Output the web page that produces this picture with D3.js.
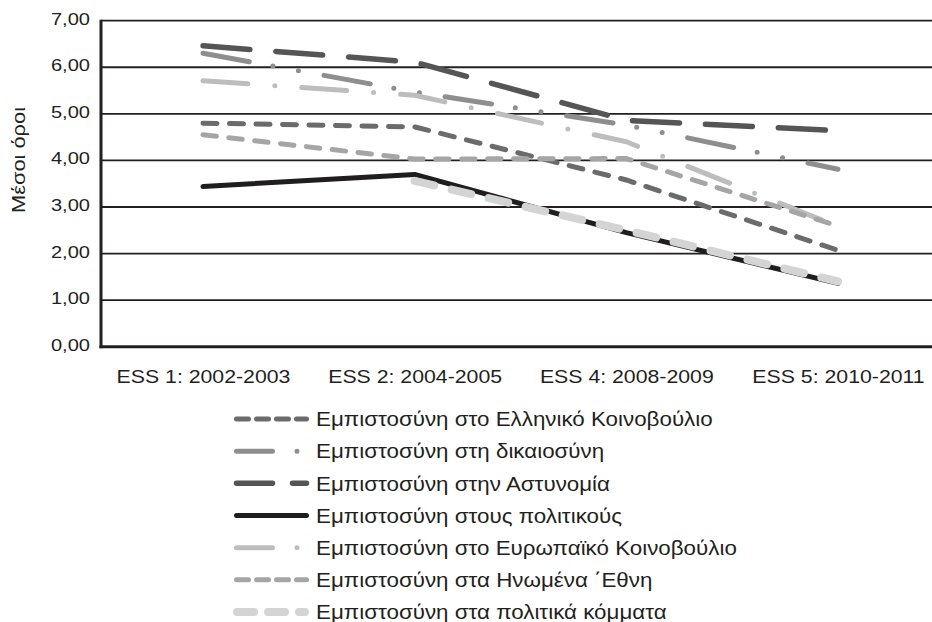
<!DOCTYPE html>
<html><head><meta charset="utf-8">
<script src="https://cdn.jsdelivr.net/npm/d3@7"></script>
<style>
html,body{margin:0;padding:0;background:#fff;}
svg{display:block;font-family:"Liberation Sans",Arial,Helvetica,sans-serif;}
</style></head>
<body><svg id="chart" width="932" height="622"></svg>
<script>
const categories = ["ESS 1: 2002-2003","ESS 2: 2004-2005","ESS 4: 2008-2009","ESS 5: 2010-2011"];
const yTicks = [0,1,2,3,4,5,6,7];
const seriesNames = [
  "Εμπιστοσύνη στο Ελληνικό Κοινοβούλιο",
  "Εμπιστοσύνη στη δικαιοσύνη",
  "Εμπιστοσύνη στην Αστυνομία",
  "Εμπιστοσύνη στους πολιτικούς",
  "Εμπιστοσύνη στο Ευρωπαϊκό Κοινοβούλιο",
  "Εμπιστοσύνη στα Ηνωμένα ΄Εθνη",
  "Εμπιστοσύνη στα πολιτικά κόμματα"
];
const parliament = [4.80, 4.72, 3.58, 2.07];
const justice    = [6.30, 5.47, 4.76, 3.81];
const police     = [6.46, 6.11, 4.86, 4.64];
const politicians= [3.44, 3.70, 2.45, 1.36];
const euParliament=[5.71, 5.40, 4.40, 2.58];
const unitedNations=[4.55, 4.03, 4.04, 2.59];
const parties    = [null, 3.56, 2.50, 1.40];
const seriesValues = [parliament, justice, police, politicians, euParliament, unitedNations, parties];

const styles = [
  {color:"#6b6b6b", w:5,   dash:"14 12.5",          legendDash:"12 8"},
  {color:"#8e8e8e", w:5,   dash:"47 24 0 26 0 26",  legendDash:"36 24.5 0 40"},
  {color:"#555555", w:5.5, dash:"47 26",            legendDash:"36 20"},
  {color:"#1f1d1e", w:5,   dash:null,               legendDash:null},
  {color:"#bdbdbd", w:5,   dash:"45 27 0 27",       legendDash:"36 24.5 0 40"},
  {color:"#a5a5a5", w:5,   dash:"13.5 12.5",        legendDash:"12 8"},
  {color:"#d4d4d4", w:8,   dash:"20 18",            legendDash:"17 14"}
];

const svg = d3.select("#chart");
const pLeft = 101, pRight = 932, pTop = 20.7, pBottom = 346.7;
const ink = "#231f20";

// the reference typeface runs wider than Liberation Sans; stretch text to match
function widen(sel, factor) {
  sel.each(function() {
    const w = this.getComputedTextLength();
    d3.select(this).attr("textLength", w * factor).attr("lengthAdjust", "spacingAndGlyphs");
  });
}

const x = d3.scalePoint().domain(categories).range([203, 838]);
const y = d3.scaleLinear().domain([0,7]).range([pBottom, pTop]);

// gridlines
svg.append("g").selectAll("line").data(yTicks.filter(d=>d>0)).join("line")
  .attr("x1", pLeft).attr("x2", pRight)
  .attr("y1", d=>y(d)).attr("y2", d=>y(d))
  .attr("stroke", ink).attr("stroke-width", 1.8);

// y axis
const yAxis = d3.axisLeft(y).tickValues(yTicks).tickSize(0).tickPadding(11)
  .tickFormat(d => d3.format(".2f")(d).replace(".", ","));
const gy = svg.append("g").attr("transform", `translate(${pLeft},-2)`).call(yAxis);
gy.select(".domain").remove();
gy.selectAll("text").attr("font-size", 17).attr("fill", ink)
  .attr("font-family", "Liberation Sans, Arial, sans-serif")
  .call(widen, 1.18);

// x axis
const xAxis = d3.axisBottom(x).tickSize(0).tickPadding(23);
const gx = svg.append("g").attr("transform", `translate(0,${pBottom})`).call(xAxis);
gx.select(".domain").remove();
gx.selectAll("text").attr("font-size", 18.5).attr("fill", ink)
  .attr("font-family", "Liberation Sans, Arial, sans-serif")
  .call(widen, 1.15);

// axis lines
svg.append("line").attr("x1", pLeft).attr("x2", pLeft).attr("y1", pTop-1).attr("y2", pBottom+1.5)
  .attr("stroke", ink).attr("stroke-width", 3);
svg.append("line").attr("x1", pLeft-1.5).attr("x2", pRight).attr("y1", pBottom).attr("y2", pBottom)
  .attr("stroke", ink).attr("stroke-width", 3);

// y title
svg.append("text").attr("transform", "translate(25,160) rotate(-90)")
  .attr("text-anchor", "middle").attr("font-size", 18.5).attr("fill", ink)
  .text("Μέσοι όροι")
  .call(widen, 1.18);

// series lines
const line = d3.line()
  .defined(d => d.v !== null)
  .x(d => x(d.c)).y(d => y(d.v));

seriesValues.forEach((vals, i) => {
  const pts = categories.map((c, j) => ({c, v: vals[j]}));
  const st = styles[i];
  svg.append("path").datum(pts)
    .attr("d", line)
    .attr("fill", "none")
    .attr("stroke", st.color)
    .attr("stroke-width", st.w)
    .attr("stroke-linecap", "round")
    .attr("stroke-linejoin", "round")
    .attr("stroke-dasharray", st.dash);
});

// legend
const lg = svg.append("g");
const rowY = d3.scalePoint().domain(seriesNames).range([419, 612]);
seriesNames.forEach((name, i) => {
  const st = styles[i];
  const yy = rowY(name);
  lg.append("line")
    .attr("x1", i===6 ? 237 : 236.5).attr("x2", i===6 ? 305 : 306.5)
    .attr("y1", yy).attr("y2", yy)
    .attr("stroke", st.color).attr("stroke-width", st.w)
    .attr("stroke-linecap", "round")
    .attr("stroke-dasharray", st.legendDash);
  lg.append("text").attr("x", 316).attr("y", yy).attr("dy", "0.35em")
    .attr("font-size", 20.5).attr("fill", ink).text(name)
    .call(widen, 1.09);
});
</script>
</body></html>
